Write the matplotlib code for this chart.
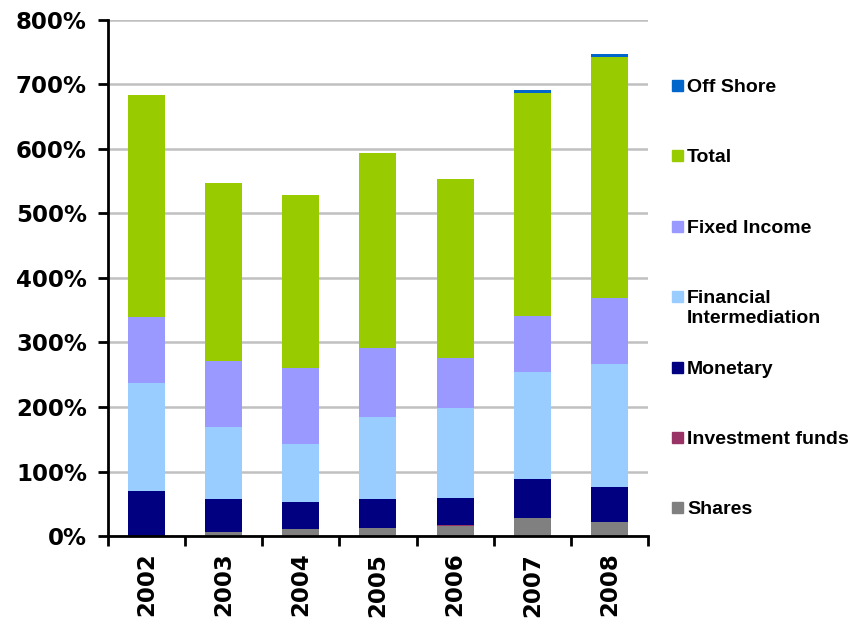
import numpy as np
import matplotlib
matplotlib.use("Agg")
import matplotlib.pyplot as plt
from matplotlib.patches import Rectangle
from matplotlib.ticker import FuncFormatter, FixedLocator

years = ["2002", "2003", "2004", "2005", "2006", "2007", "2008"]

# stacked segments in %, bottom to top
shares = [0, 7, 11, 12, 16, 28, 21]
investment_funds = [0, 0, 0, 0, 1.5, 0, 0]
monetary = [70, 50, 41, 45, 42, 60, 55]
financial_intermediation = [167, 112, 91, 127, 139, 166, 191]
fixed_income = [103, 102, 117, 108, 77, 87, 102]
total = [344, 276, 268, 302, 278, 346, 373]
off_shore = [0, 0, 0, 0, 0, 4, 5]

series = [
    ("Shares", shares, "#808080"),
    ("Investment funds", investment_funds, "#993366"),
    ("Monetary", monetary, "#000080"),
    ("Financial\nIntermediation", financial_intermediation, "#99ccff"),
    ("Fixed Income", fixed_income, "#9999ff"),
    ("Total", total, "#99cc00"),
    ("Off Shore", off_shore, "#0066cc"),
]

fig = plt.figure(figsize=(8.55, 6.24), dpi=100)
ax = fig.add_axes([0.126, 0.141, 0.632, 0.827])

x = np.arange(len(years))
bottom = np.zeros(len(years))
for name, vals, color in series:
    vals = np.array(vals, dtype=float)
    ax.bar(x, vals, width=0.48, bottom=bottom, color=color, zorder=3)
    bottom += vals

ax.set_xlim(-0.5, len(years) - 0.5)
ax.set_ylim(0, 800)
ax.set_yticks(np.arange(0, 801, 100))
ax.yaxis.set_major_formatter(FuncFormatter(lambda v, p: f"{int(v)}%"))
ax.grid(axis="y", color="#c0c0c0", linewidth=1.8, zorder=0)

ax.set_xticks(x)
ax.set_xticklabels(years, rotation=90)
ax.xaxis.set_minor_locator(FixedLocator(np.arange(-0.5, len(years), 1.0)))
ax.tick_params(axis="x", which="major", length=0, pad=12)
ax.tick_params(axis="x", which="minor", length=7, width=2, direction="out")
ax.tick_params(axis="y", length=7, width=2, direction="out", pad=8)

for lbl in ax.get_xticklabels() + ax.get_yticklabels():
    lbl.set_fontfamily("DejaVu Sans")
    lbl.set_fontweight("bold")
    lbl.set_fontsize(16.5)

for side in ["top", "right"]:
    ax.spines[side].set_visible(False)
for side in ["left", "bottom"]:
    ax.spines[side].set_linewidth(2)
    ax.spines[side].set_color("black")
    ax.spines[side].set_zorder(4)

# legend, top entry = top of stack
W, H = 855, 624
leg_y = [86, 156, 227, 297, 368, 438, 508]
for (name, vals, color), yy in zip(series[::-1], leg_y):
    fig.patches.append(Rectangle((672 / W, 1 - (yy + 5) / H), 11 / W, 11 / H,
                                 transform=fig.transFigure, color=color))
    fig.text(687 / W, 1 - (yy - 7) / H, name, ha="left", va="top",
             fontfamily="Liberation Sans", fontweight="bold", fontsize=14,
             linespacing=1.2)

fig.savefig("out.png", dpi=100)
